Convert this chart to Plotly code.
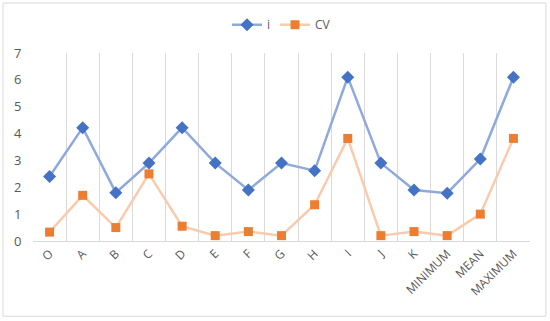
import plotly.graph_objects as go

categories = ["O", "A", "B", "C", "D", "E", "F", "G", "H", "I", "J", "K", "MINIMUM", "MEAN", "MAXIMUM"]
i_values = [2.4, 4.22, 1.8, 2.9, 4.22, 2.9, 1.9, 2.9, 2.62, 6.1, 2.9, 1.9, 1.78, 3.05, 6.1]
cv_values = [0.33, 1.7, 0.5, 2.5, 0.55, 0.2, 0.35, 0.2, 1.35, 3.82, 0.2, 0.35, 0.2, 1.0, 3.82]
y_ticks = [0, 1, 2, 3, 4, 5, 6, 7]

fig = go.Figure()
fig.add_trace(go.Scatter(
    x=categories, y=i_values, name="i", mode="lines+markers",
    line=dict(color="#8EA9DB", width=2.5),
    marker=dict(symbol="diamond", size=10, color="#4472C4"),
))
fig.add_trace(go.Scatter(
    x=categories, y=cv_values, name="CV", mode="lines+markers",
    line=dict(color="#F8CBAD", width=2.5),
    marker=dict(symbol="square", size=9, color="#ED7D31"),
))

fig.update_layout(
    width=550, height=321,
    margin=dict(l=33, r=20, t=53, b=80, autoexpand=False),
    paper_bgcolor="white", plot_bgcolor="white",
    font=dict(family="Open Sans", color="#595959", size=11),
    showlegend=True,
    legend=dict(orientation="h", x=0.5, xanchor="center", y=1.15, yanchor="middle",
                font=dict(size=12, color="#595959"), traceorder="normal"),
    xaxis=dict(
        type="category", range=[-0.5, 14.5], tickson="boundaries",
        showgrid=True, gridcolor="#D9D9D9", gridwidth=1,
        showline=True, linecolor="#D9D9D9", linewidth=1,
        ticks="outside", ticklen=11, tickcolor="rgba(0,0,0,0)",
        tickangle=-45, tickfont=dict(size=12, color="#595959"),
        zeroline=False, automargin=False,
    ),
    yaxis=dict(
        range=[0, 7], tickvals=y_ticks, showgrid=False, zeroline=False,
        showline=False, ticks="outside", ticklen=8, tickcolor="rgba(0,0,0,0)",
        tickfont=dict(size=13, color="#595959"),
        automargin=False,
    ),
    shapes=[dict(type="rect", xref="paper", yref="paper",
                 x0=-0.0604, x1=1.032, y0=-0.40, y1=1.266,
                 line=dict(color="#D9D9D9", width=1), fillcolor="rgba(0,0,0,0)")],
)

fig.write_html("out.html", config={"displayModeBar": False},
               post_script="document.body.style.margin='0';document.body.style.overflow='hidden';")
